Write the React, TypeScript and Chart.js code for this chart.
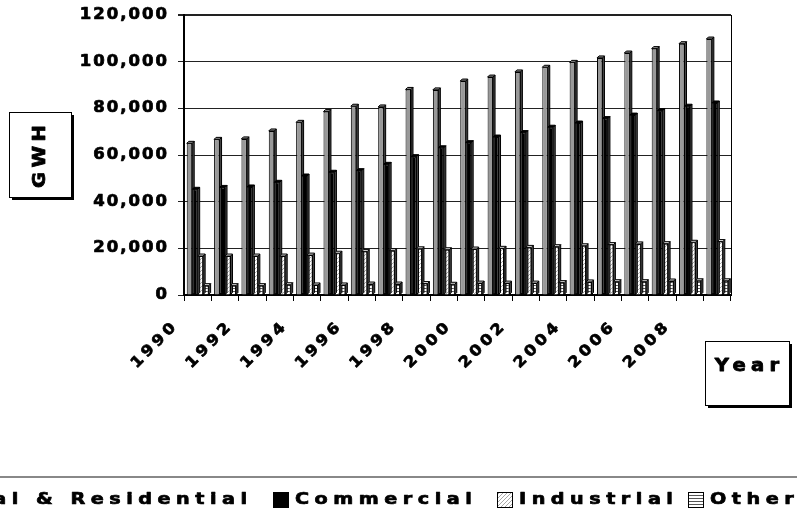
import React, { useEffect, useRef } from 'react';
import { Chart, registerables } from 'chart.js';

Chart.register(...registerables);

const years = [1990, 1991, 1992, 1993, 1994, 1995, 1996, 1997, 1998, 1999, 2000, 2001, 2002, 2003, 2004, 2005, 2006, 2007, 2008, 2009];
const seriesNames = ['Rural & Residential', 'Commercial', 'Industrial', 'Other'];
const residential = [65000, 66700, 66900, 70300, 74000, 78600, 80900, 80600, 88100, 87900, 91700, 93400, 95600, 97600, 99700, 101600, 103700, 105600, 107700, 109700];
const commercial = [45300, 46100, 46300, 48300, 51000, 52600, 53300, 56000, 59300, 63100, 65300, 67700, 69600, 71900, 73700, 75600, 77100, 79000, 80900, 82300];
const industrial = [16700, 16700, 16700, 16700, 17100, 17900, 18600, 19000, 19800, 19400, 19700, 20000, 20400, 20700, 21100, 21600, 21900, 22000, 22600, 22900];
const other = [4000, 4000, 4000, 4400, 4300, 4300, 4700, 4700, 4900, 4600, 5100, 5100, 5100, 5300, 5600, 5700, 5700, 6000, 6100, 6100];
const yMax = 120000;
const yStep = 20000;
const yTitle = 'GWH';
const xTitle = 'Year';

const FONT = '"DejaVu Sans", sans-serif';

function makePattern(ctx: CanvasRenderingContext2D, kind: string): CanvasPattern | string {
  const c = document.createElement('canvas');
  const g = c.getContext('2d');
  if (!g) return '#fff';
  if (kind === 'diag') {
    c.width = 4; c.height = 4;
    g.fillStyle = '#ffffff'; g.fillRect(0, 0, 4, 4);
    g.fillStyle = '#a8a8a8';
    for (let i = 0; i < 4; i++) g.fillRect(3 - i, i, 1, 1);
  } else {
    c.width = 2; c.height = 3;
    g.fillStyle = '#ffffff'; g.fillRect(0, 0, 2, 3);
    g.fillStyle = '#555555'; g.fillRect(0, 0, 2, 1);
  }
  return ctx.createPattern(c, 'repeat') || '#fff';
}

// width on screen of text drawn with horizontal scale sx and screen letter spacing sp
function textW(ctx: CanvasRenderingContext2D, text: string, sp: number, sx: number) {
  ctx.letterSpacing = sp / sx + 'px';
  return (ctx.measureText(text).width - sp / sx) * sx;
}
// heavy, widened text; x is the left edge
function heavyText(ctx: CanvasRenderingContext2D, text: string, x: number, y: number, sp: number, sx: number, stroke: number) {
  ctx.save();
  ctx.translate(x, y);
  ctx.scale(sx, 1);
  ctx.letterSpacing = sp / sx + 'px';
  ctx.textAlign = 'left';
  ctx.fillStyle = '#000';
  ctx.fillText(text, 0, 0);
  if (stroke > 0) {
    ctx.lineWidth = stroke;
    ctx.strokeStyle = '#000';
    ctx.lineJoin = 'round';
    ctx.strokeText(text, 0, 0);
  }
  ctx.restore();
}

const decorPlugin = {
  id: 'decor',
  afterDatasetsDraw(chart: any) {
    const ctx: CanvasRenderingContext2D = chart.ctx;
    const d = 2;
    ctx.save();
    chart.data.datasets.forEach((ds: any, i: number) => {
      const meta = chart.getDatasetMeta(i);
      meta.data.forEach((bar: any) => {
        const p = bar.getProps(['x', 'y', 'width', 'base'], true);
        const l = p.x - p.width / 2;
        const r = p.x + p.width / 2;
        ctx.lineWidth = 1;
        ctx.strokeStyle = '#000';
        ctx.beginPath();
        ctx.moveTo(r, p.y); ctx.lineTo(r + d, p.y - d); ctx.lineTo(r + d, p.base - d); ctx.lineTo(r, p.base);
        ctx.closePath();
        ctx.fillStyle = '#444';
        ctx.fill(); ctx.stroke();
        ctx.beginPath();
        ctx.moveTo(l, p.y); ctx.lineTo(l + d, p.y - d); ctx.lineTo(r + d, p.y - d); ctx.lineTo(r, p.y);
        ctx.closePath();
        ctx.fillStyle = ds.capColor;
        ctx.fill(); ctx.stroke();
      });
    });
    ctx.restore();
  },
  afterDraw(chart: any) {
    const ctx: CanvasRenderingContext2D = chart.ctx;
    const area = chart.chartArea;
    const xs = chart.scales.x;
    const ys = chart.scales.y;
    ctx.save();
    ctx.strokeStyle = '#000';
    ctx.lineWidth = 1;
    ctx.beginPath();
    ctx.moveTo(Math.round(area.right) + 0.5, area.top);
    ctx.lineTo(Math.round(area.right) + 0.5, area.bottom);
    ctx.stroke();

    // y tick labels
    ctx.font = `bold 15px ${FONT}`;
    ctx.textBaseline = 'middle';
    ys.ticks.forEach((t: any, i: number) => {
      const label = Number(t.value).toLocaleString('en-US');
      const y = ys.getPixelForTick(i);
      const w = textW(ctx, label, 2, 1.1);
      heavyText(ctx, label, area.left - 17 - w, y, 2, 1.1, 0.7);
    });
    // x tick labels, every other year, rotated
    xs.ticks.forEach((t: any, i: number) => {
      if (i % 2 !== 0) return;
      const label = String(years[i]);
      const cx = xs.getPixelForTick(i);
      ctx.save();
      ctx.translate(cx - 24, area.bottom + 31);
      ctx.rotate(-Math.PI / 4);
      const w = textW(ctx, label, 3.5, 1.1);
      heavyText(ctx, label, -w, 0, 3.5, 1.1, 0.7);
      ctx.restore();
    });

    // Y title box
    const gx = 9, gy = 112, gw = 62, gh = 85;
    ctx.fillStyle = '#000';
    ctx.fillRect(gx + 3, gy + 3, gw, gh);
    ctx.fillStyle = '#fff';
    ctx.fillRect(gx, gy, gw, gh);
    ctx.strokeStyle = '#000';
    ctx.lineWidth = 1;
    ctx.strokeRect(gx + 0.5, gy + 0.5, gw, gh);
    ctx.save();
    ctx.translate(gx + gw / 2 + 1, gy + gh / 2 + 2);
    ctx.rotate(-Math.PI / 2);
    ctx.font = `bold 17px ${FONT}`;
    ctx.textBaseline = 'middle';
    const tw = textW(ctx, yTitle, 4.5, 1.15);
    heavyText(ctx, yTitle, -tw / 2, 0, 4.5, 1.15, 0.8);
    ctx.restore();

    // X title box
    const bx = 705, by = 341, bw = 84, bh = 64;
    ctx.fillStyle = '#000';
    ctx.fillRect(bx + 3, by + 3, bw, bh);
    ctx.fillStyle = '#fff';
    ctx.fillRect(bx, by, bw, bh);
    ctx.strokeStyle = '#000';
    ctx.lineWidth = 1;
    ctx.strokeRect(bx + 0.5, by + 0.5, bw, bh);
    ctx.font = `bold 17px ${FONT}`;
    ctx.textBaseline = 'middle';
    const xw = textW(ctx, xTitle, 5.3, 1.15);
    heavyText(ctx, xTitle, bx + bw / 2 - xw / 2, 367, 5.3, 1.15, 0.8);

    // separator line above legend
    ctx.strokeStyle = '#888';
    ctx.lineWidth = 2;
    ctx.beginPath();
    ctx.moveTo(0, 477);
    ctx.lineTo(chart.width, 477);
    ctx.stroke();

    // legend
    ctx.font = `bold 16px ${FONT}`;
    const sp = 5.5;
    const sx = 1.2;
    ctx.textBaseline = 'middle';
    const ly = 500;
    const box = 16;
    const boxLefts = [0, 273, 497, 688];
    const dss = chart.data.datasets;
    dss.forEach((ds: any, i: number) => {
      const w = textW(ctx, ds.label, sp, sx);
      let bl = boxLefts[i];
      if (i === 0) bl = 247 - w - 22;
      ctx.fillStyle = ds.backgroundColor;
      ctx.fillRect(bl, ly - 8, box, box);
      ctx.lineWidth = 1;
      ctx.strokeStyle = '#000';
      ctx.strokeRect(bl + 0.5, ly - 7.5, box - 1, box - 1);
      heavyText(ctx, ds.label, bl + 22, ly, sp, sx, 0.7);
    });
    ctx.restore();
  },
};

export default function App() {
  const ref = useRef<HTMLCanvasElement | null>(null);
  useEffect(() => {
    const canvas = ref.current;
    if (!canvas) return;
    const ctx = canvas.getContext('2d') as CanvasRenderingContext2D;
    const diag = makePattern(ctx, 'diag');
    const horiz = makePattern(ctx, 'horiz');
    const chart = new Chart(canvas, {
      type: 'bar',
      data: {
        labels: years.map(String),
        datasets: [
          { label: seriesNames[0], data: residential, backgroundColor: '#999999', capColor: '#8a8a8a', borderColor: '#000', borderWidth: 1 } as any,
          { label: seriesNames[1], data: commercial, backgroundColor: '#000000', capColor: '#000000', borderColor: '#000', borderWidth: 1 } as any,
          { label: seriesNames[2], data: industrial, backgroundColor: diag, capColor: '#dddddd', borderColor: '#000', borderWidth: 1 } as any,
          { label: seriesNames[3], data: other, backgroundColor: horiz, capColor: '#dddddd', borderColor: '#000', borderWidth: 1 } as any,
        ],
      },
      options: {
        responsive: false,
        animation: false,
        devicePixelRatio: 1,
        layout: { padding: { top: 15, right: 66, bottom: 0, left: 0 } },
        datasets: { bar: { categoryPercentage: 0.8, barPercentage: 1.0 } },
        plugins: { legend: { display: false }, tooltip: { enabled: false }, title: { display: false } },
        scales: {
          x: {
            offset: true,
            grid: { display: true, drawOnChartArea: false, drawTicks: true, tickLength: 6, color: '#000', offset: true },
            border: { display: true, color: '#000', width: 2 },
            ticks: { display: false, autoSkip: false },
            afterFit: (scale: any) => { scale.height = 227; },
          },
          y: {
            min: 0,
            max: yMax,
            grid: {
              color: '#222',
              lineWidth: (c: any) => (c.tick && c.tick.value === yMax ? 2 : 1),
              drawTicks: true,
              tickLength: 6,
            },
            border: { display: true, color: '#000', width: 2 },
            ticks: { display: false, stepSize: yStep },
            afterFit: (scale: any) => { scale.width = 184; },
          },
        },
      } as any,
      plugins: [decorPlugin],
    });
    return () => chart.destroy();
  }, []);
  return (
    <div style={{ position: 'absolute', left: 0, top: 0, width: 797, height: 522, background: '#fff' }}>
      <canvas ref={ref} width={797} height={522} style={{ display: 'block' }} />
    </div>
  );
}
